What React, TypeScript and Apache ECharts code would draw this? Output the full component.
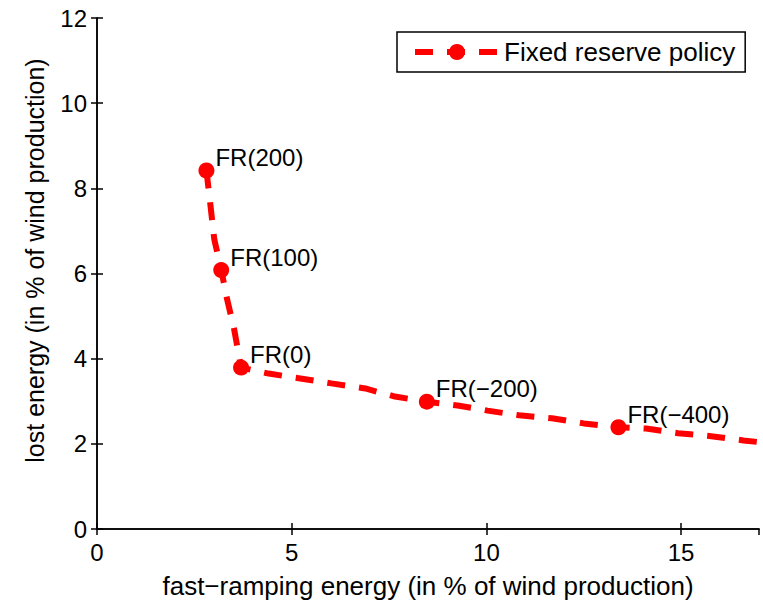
import React, { useEffect, useRef } from "react";
import * as echarts from "echarts";

// Dashed curve (x = fast-ramping energy %, y = lost energy %)
const curveX = [2.81, 2.91, 3.01, 3.19, 3.34, 3.52, 3.7, 4.05, 4.41, 5.26, 6.02, 6.89, 7.65, 8.47, 9.26, 10.03, 10.84, 11.68, 12.5, 13.39, 14.1, 14.92, 15.77, 16.6, 17.2];
const curveY = [8.42, 7.63, 6.81, 6.08, 5.4, 4.7, 3.79, 3.72, 3.65, 3.53, 3.42, 3.3, 3.11, 2.99, 2.9, 2.78, 2.67, 2.6, 2.48, 2.39, 2.36, 2.25, 2.18, 2.08, 2.02];

// Labelled policy points
const markerNames = ["FR(200)", "FR(100)", "FR(0)", "FR(\u2212200)", "FR(\u2212400)"];
const markerX = [2.81, 3.19, 3.7, 8.47, 13.39];
const markerY = [8.42, 6.08, 3.79, 2.99, 2.39];

const seriesName = "Fixed reserve policy";
const xTitle = "fast\u2212ramping energy (in % of wind production)";
const yTitle = "lost energy (in % of wind production)";

const FONT = "'Liberation Sans', Arial, Helvetica, sans-serif";
const RED = "#ff0000";

export default function App() {
  const ref = useRef<HTMLDivElement>(null);

  useEffect(() => {
    if (!ref.current) return;
    const chart = echarts.init(ref.current, null, { renderer: "svg" });
    const axisLine = { show: true, lineStyle: { color: "#000", width: 1.5 } };
    const axisTick = { show: true, inside: true, length: 6, lineStyle: { color: "#000", width: 1.5 } };
    const option: any = {
      animation: false,
      backgroundColor: "#fff",
      textStyle: { fontFamily: FONT },
      grid: { left: 97, right: 4, top: 18, bottom: 73, containLabel: false },
      legend: {
        data: [seriesName],
        left: 397,
        top: 32,
        padding: [7, 10, 7, 15],
        itemWidth: 84,
        itemHeight: 20,
        itemGap: 6,
        borderColor: "#000",
        borderWidth: 1.5,
        backgroundColor: "#fff",
        lineStyle: { width: 6, type: [18, 14], color: RED },
        textStyle: { fontSize: 26, color: "#000", fontFamily: FONT },
      },
      xAxis: [
        {
          type: "value",
          min: 0,
          max: 17,
          interval: 5,
          position: "bottom",
          name: xTitle,
          nameLocation: "middle",
          nameGap: 44,
          nameTextStyle: { fontSize: 26, color: "#000", fontFamily: FONT },
          axisLine,
          axisTick,
          splitLine: { show: false },
          axisLabel: { fontSize: 24, color: "#000", margin: 11, showMaxLabel: false, fontFamily: FONT },
        },
        {
          type: "value",
          min: 0,
          max: 17,
          interval: 5,
          position: "top",
          axisLine,
          axisTick,
          splitLine: { show: false },
          axisLabel: { show: false },
        },
      ],
      yAxis: [
        {
          type: "value",
          min: 0,
          max: 12,
          interval: 2,
          position: "left",
          name: yTitle,
          nameLocation: "middle",
          nameGap: 50,
          nameTextStyle: { fontSize: 25, color: "#000", fontFamily: FONT, padding: [0, 0, 0, 26] },
          axisLine,
          axisTick,
          splitLine: { show: false },
          axisLabel: { fontSize: 24, color: "#000", margin: 10, fontFamily: FONT },
        },
        {
          type: "value",
          min: 0,
          max: 12,
          interval: 2,
          position: "right",
          axisLine,
          axisTick,
          splitLine: { show: false },
          axisLabel: { show: false },
        },
      ],
      series: [
        {
          name: seriesName,
          type: "line",
          data: curveX.map((x, i) => [x, curveY[i]]),
          symbol: "circle",
          symbolSize: 16,
          showSymbol: false,
          itemStyle: { color: RED },
          lineStyle: { color: RED, width: 6, type: [18, 14], cap: "butt" },
          clip: true,
          z: 2,
        },
        {
          name: "markers",
          type: "scatter",
          data: markerX.map((x, i) => ({ value: [x, markerY[i]], name: markerNames[i] })),
          symbol: "circle",
          symbolSize: 16,
          itemStyle: { color: RED, opacity: 1 },
          label: {
            show: true,
            position: "right",
            distance: 1,
            offset: [0, -13],
            formatter: (p: any) => p.name,
            fontSize: 24,
            color: "#000",
            fontFamily: FONT,
          },
          z: 3,
        },
      ],
    };
    chart.setOption(option);
    return () => chart.dispose();
  }, []);

  return (
    <div
      ref={ref}
      style={{ position: "fixed", left: 0, top: 0, width: 763, height: 604, background: "#fff" }}
    />
  );
}
